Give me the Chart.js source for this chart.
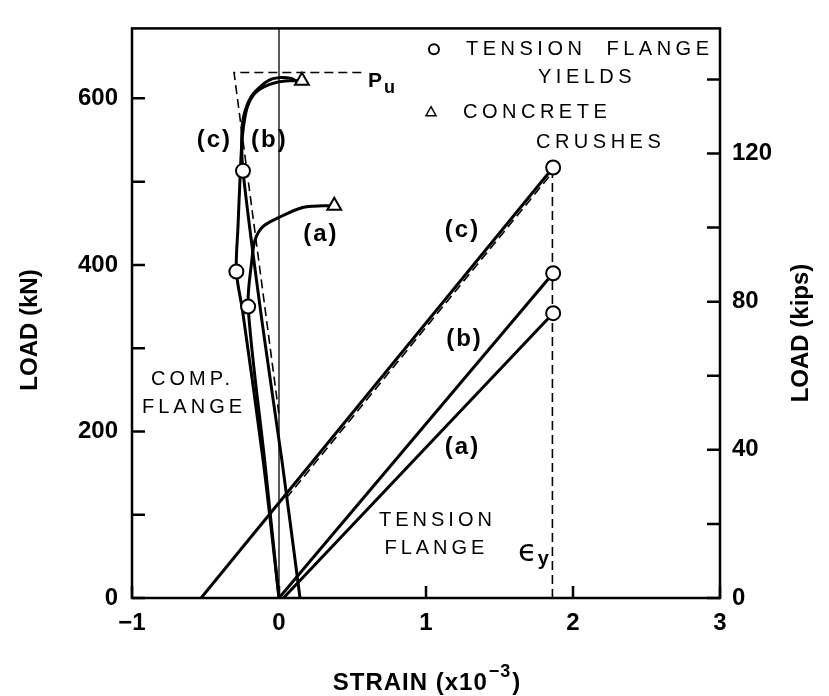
<!DOCTYPE html>
<html>
<head>
<meta charset="utf-8">
<style>
  html, body { margin: 0; padding: 0; background: #fff; }
</style>
<script src="https://cdn.jsdelivr.net/npm/chart.js@4.4.1/dist/chart.umd.min.js"></script>
</head>
<body>
<canvas id="chart" width="829" height="696"></canvas>
<script>
// strain in units of 1e-3, load in kN
const xTicks = [-1, 0, 1, 2, 3];
const kNTickLabels = [0, 200, 400, 600];
const kipTickLabels = [0, 40, 80, 120];
const KN_PER_KIP = 4.448;
const Y_MAX = 684;

// tension flange gauges
const tensionA = [[0.03, 0], [1.865, 342]];
const tensionB = [[0.0, 0], [1.865, 390]];
const tensionC = [[-0.53, 0], [1.865, 517]];

// compression flange gauges
const compA = [[0.0, 0], [-0.095, 161], [-0.21, 350], [-0.184, 407], [-0.163, 430],
  [-0.11, 446], [0.0, 457], [0.16, 469], [0.3, 471], [0.376, 471]];
const compB = [[0.0, 0], [-0.105, 161], [-0.248, 345], [-0.29, 392], [-0.279, 446],
  [-0.265, 504], [-0.255, 540], [-0.24, 568], [-0.215, 590], [-0.17, 605],
  [-0.1, 614], [-0.02, 619], [0.07, 621], [0.156, 621]];
const compC = [[0.143, 0], [0.02, 165], [-0.11, 325], [-0.245, 513], [-0.252, 563],
  [-0.229, 586], [-0.19, 602], [-0.134, 613], [-0.066, 622], [0.014, 625],
  [0.082, 624], [0.116, 621]];

// predicted (dashed) lines
const puLine = [[0.56, 631], [-0.306, 631], [0.0, 220]];
const tensionTheory = [[0.05, 120], [1.865, 512]];
const yieldStrain = [[1.86, 0], [1.86, 508]];
const zeroStrain = [[0, 0], [0, Y_MAX]];

// events
const flangeYields = [[-0.245, 513], [-0.29, 392], [-0.21, 350], [1.865, 517], [1.865, 390], [1.865, 342]];
const concreteCrushes = [[0.156, 621], [0.376, 471]];

const FONT = '"Liberation Sans", Arial, Helvetica, sans-serif';
const pts = arr => arr.map(p => ({ x: p[0], y: p[1] }));

function solid(data, curve) {
  return { data: pts(data), showLine: true, borderColor: '#000', borderWidth: 3,
    pointRadius: 0, tension: curve ? 0.3 : 0, order: 2 };
}
function dashed(data, width) {
  return { data: pts(data), showLine: true, borderColor: '#000', borderWidth: width || 1.6,
    borderDash: [9, 5], pointRadius: 0, tension: 0, order: 3 };
}

function text(ctx, s, px, py, font, align, spacing) {
  ctx.font = font;
  ctx.textAlign = align || 'center';
  ctx.textBaseline = 'middle';
  if ('letterSpacing' in ctx) ctx.letterSpacing = (spacing || 0) + 'px';
  ctx.fillText(s, px, py);
  if ('letterSpacing' in ctx) ctx.letterSpacing = '0px';
}

const decorations = {
  id: 'decorations',
  afterDatasetsDraw(chart) {
    const { ctx, chartArea: a, scales: { x, y, y2 } } = chart;
    const X = v => x.getPixelForValue(v);
    const Y = v => y.getPixelForValue(v);
    ctx.save();
    ctx.strokeStyle = '#000';
    ctx.fillStyle = '#000';

    // frame
    ctx.lineWidth = 2.5;
    ctx.strokeRect(a.left, a.top, a.right - a.left, a.bottom - a.top);

    // inward tick marks
    ctx.beginPath();
    y.ticks.forEach(t => { const p = y.getPixelForValue(t.value); ctx.moveTo(a.left, p); ctx.lineTo(a.left + 13, p); });
    y2.ticks.forEach(t => { const p = y2.getPixelForValue(t.value); ctx.moveTo(a.right, p); ctx.lineTo(a.right - 13, p); });
    x.ticks.forEach(t => { const p = x.getPixelForValue(t.value); ctx.moveTo(p, a.bottom); ctx.lineTo(p, a.bottom - 12); });
    ctx.stroke();

    const bold = 'bold 24px ' + FONT;
    const reg = '20px ' + FONT;

    // curve labels
    text(ctx, '(c)', X(-0.44), Y(550), bold, 'center', 2);
    text(ctx, '(b)', X(-0.065), Y(550), bold, 'center', 2);
    text(ctx, '(a)', X(0.285), Y(437), bold, 'center', 2);
    text(ctx, '(c)', X(1.248), Y(442), bold, 'center', 2);
    text(ctx, '(b)', X(1.262), Y(310), bold, 'center', 2);
    text(ctx, '(a)', X(1.248), Y(181), bold, 'center', 2);

    text(ctx, 'COMP.', X(-0.588), Y(263), reg, 'center', 4);
    text(ctx, 'FLANGE', X(-0.578), Y(229), reg, 'center', 4);
    text(ctx, 'TENSION', X(1.078), Y(93.5), reg, 'center', 4);
    text(ctx, 'FLANGE', X(1.071), Y(59.6), reg, 'center', 4);

    // key
    ctx.lineWidth = 2;
    ctx.beginPath(); ctx.arc(X(1.054), Y(659), 5, 0, Math.PI * 2); ctx.stroke();
    text(ctx, 'TENSION  FLANGE', X(1.272), Y(659), reg, 'left', 4.5);
    text(ctx, 'YIELDS', X(1.762), Y(625), reg, 'left', 4.5);
    const tx = X(1.034), ty = Y(584);
    ctx.lineWidth = 1.5;
    ctx.beginPath(); ctx.moveTo(tx, ty - 5); ctx.lineTo(tx + 5, ty + 4); ctx.lineTo(tx - 5, ty + 4); ctx.closePath(); ctx.stroke();
    text(ctx, 'CONCRETE', X(1.252), Y(583), reg, 'left', 4.5);
    text(ctx, 'CRUSHES', X(1.748), Y(547), reg, 'left', 4.5);

    // P_u and epsilon_y
    ctx.textBaseline = 'alphabetic';
    ctx.textAlign = 'left';
    ctx.font = 'bold 21px ' + FONT;
    ctx.fillText('P', X(0.605), Y(614));
    ctx.font = 'bold 18px ' + FONT;
    ctx.fillText('u', X(0.714), Y(607));
    ctx.font = '31px "DejaVu Sans", ' + FONT;
    ctx.fillText('\u03f5', X(1.625), Y(44));
    ctx.font = 'bold 20px ' + FONT;
    ctx.fillText('y', X(1.76), Y(40));

    // axis titles
    ctx.font = bold;
    ctx.textBaseline = 'middle';
    if ('letterSpacing' in ctx) ctx.letterSpacing = '1px';
    const main = 'STRAIN (x10', sup = '\u22123', close = ')';
    const w1 = ctx.measureText(main).width;
    const w3 = ctx.measureText(close).width;
    ctx.font = 'bold 18px ' + FONT;
    const w2 = ctx.measureText(sup).width;
    let sx = 426 - (w1 + w2 + w3) / 2;
    ctx.font = bold;
    ctx.fillText(main, sx, 683);
    ctx.font = 'bold 18px ' + FONT;
    ctx.fillText(sup, sx + w1 + 1, 672);
    ctx.font = bold;
    ctx.fillText(close, sx + w1 + w2 + 2, 683);
    if ('letterSpacing' in ctx) ctx.letterSpacing = '0px';

    ctx.textAlign = 'center';
    ctx.save();
    ctx.translate(30, 330); ctx.rotate(-Math.PI / 2);
    ctx.fillText('LOAD (kN)', 0, 0);
    ctx.restore();
    ctx.save();
    ctx.translate(801, 333); ctx.rotate(-Math.PI / 2);
    ctx.fillText('LOAD (kips)', 0, 0);
    ctx.restore();

    ctx.restore();
  }
};

const tickFont = { family: FONT, size: 24, weight: 'bold' };

new Chart(document.getElementById('chart'), {
  type: 'scatter',
  data: {
    datasets: [
      { data: pts(flangeYields), pointStyle: 'circle', pointRadius: 7, borderWidth: 2,
        borderColor: '#000', backgroundColor: '#fff', order: 0 },
      { data: pts(concreteCrushes), pointStyle: 'triangle', pointRadius: 8, borderWidth: 2,
        borderColor: '#000', backgroundColor: '#fff', order: 0 },
      solid(tensionA), solid(tensionB), solid(tensionC),
      solid(compA, true), solid(compB, true), solid(compC, true),
      dashed(puLine), dashed(tensionTheory), dashed(yieldStrain),
      { data: pts(zeroStrain), showLine: true, borderColor: '#000', borderWidth: 1.3, pointRadius: 0, order: 4 }
    ]
  },
  options: {
    responsive: false,
    devicePixelRatio: 1,
    animation: false,
    layout: { padding: { top: 13, left: 0, right: 0, bottom: 0 } },
    plugins: { legend: { display: false }, tooltip: { enabled: false } },
    scales: {
      x: {
        type: 'linear', position: 'bottom', min: xTicks[0], max: xTicks[xTicks.length - 1],
        grid: { display: false, drawTicks: false }, border: { display: false },
        ticks: { stepSize: 1, color: '#000', font: tickFont, padding: 11, maxRotation: 0,
          callback: v => xTicks.includes(v) ? (v < 0 ? '\u2212' + Math.abs(v) : String(v)) : '' },
        afterFit: s => { s.height = 98; }
      },
      y: {
        type: 'linear', position: 'left', min: 0, max: Y_MAX,
        grid: { display: false, drawTicks: false }, border: { display: false },
        ticks: { stepSize: 100, includeBounds: false, color: '#000', font: tickFont, padding: 14,
          callback: v => kNTickLabels.includes(v) ? String(v) : '' },
        afterFit: s => { s.width = 132; }
      },
      y2: {
        type: 'linear', position: 'right', min: 0, max: Y_MAX / KN_PER_KIP,
        grid: { display: false, drawTicks: false }, border: { display: false },
        ticks: { stepSize: 20, includeBounds: false, color: '#000', font: tickFont, padding: 12,
          callback: v => kipTickLabels.includes(v) ? String(v) : '' },
        afterFit: s => { s.width = 109; }
      }
    }
  },
  plugins: [decorations]
});
</script>
</body>
</html>
